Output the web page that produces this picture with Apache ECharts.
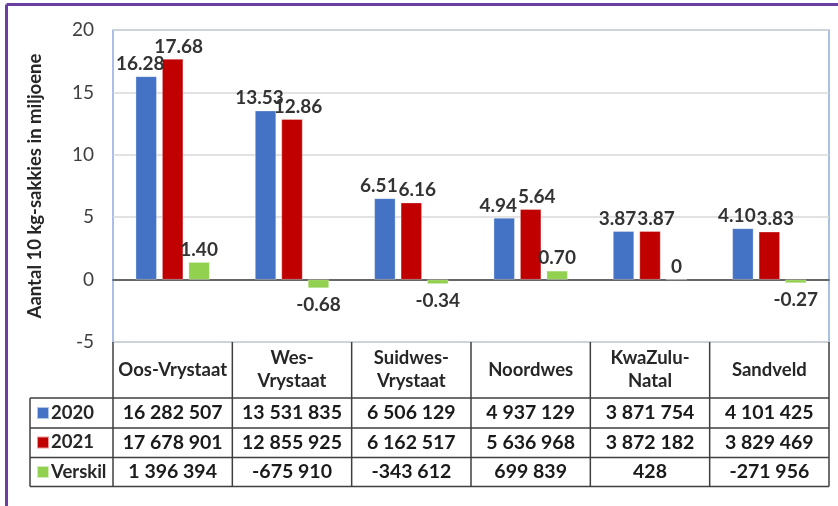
<!DOCTYPE html>
<html>
<head>
<meta charset="utf-8">
<script src="https://cdn.jsdelivr.net/npm/echarts@6/dist/echarts.min.js"></script>
<style>
html,body{margin:0;padding:0;background:#fff;}
#c{width:838px;height:506px;}
</style>
</head>
<body>
<div id="c"></div>
<script>
// ---- data ----
const categories = ['Oos-Vrystaat', 'Wes-\nVrystaat', 'Suidwes-\nVrystaat', 'Noordwes', 'KwaZulu-\nNatal', 'Sandveld'];
const seriesNames = ['2020', '2021', 'Verskil'];
const v2020 = [16282507, 13531835, 6506129, 4937129, 3871754, 4101425];
const v2021 = [17678901, 12855925, 6162517, 5636968, 3872182, 3829469];
const verskil = [1396394, -675910, -343612, 699839, 428, -271956];
const yMin = -5, yMax = 20, yStep = 5;
const yTitle = 'Aantal 10 kg-sakkies in miljoene';

// ---- styling / layout ----
const colors = ['#4472C4', '#C00000', '#92D050'];
const labelShift = [-6, 6, 0];
const FONT = 'Lato, "Open Sans", sans-serif';
const W = 838, H = 506;
const GL = 113, GR = 829, GT = 30, GB = 342;
const TL = 30;                      // left edge of row label column
const rowLines = [398, 428, 457.5, 486.5];
const lineColor = '#3F3F3F';

function fmtThousands(n) {
  const s = Math.abs(n).toString().replace(/\B(?=(\d{3})+(?!\d))/g, ' ');
  return (n < 0 ? '-' : '') + s;
}
function fmtLabel(v) {
  if (Math.abs(v) < 0.005) return '0';
  return v.toFixed(2);
}
const rows = [v2020, v2021, verskil];

const series = rows.map((arr, si) => ({
  name: seriesNames[si],
  type: 'bar',
  xAxisIndex: 0, yAxisIndex: 0,
  barWidth: 21,
  barGap: '26%',
  itemStyle: { color: colors[si], borderColor: 'rgba(255,255,255,0.6)', borderWidth: 0.5 },
  data: arr.map(v => {
    const val = v / 1e6;
    return {
      value: val,
      label: val < 0 ? { position: 'bottom', distance: 7 } : { position: 'top', distance: 3 }
    };
  }),
  label: {
    show: true, offset: [labelShift[si], 0],
    fontFamily: FONT, fontWeight: 'bold', fontSize: 19, color: '#333333',
    formatter: p => fmtLabel(p.value)
  }
}));

const grids = [{ left: GL, right: W - GR, top: GT, bottom: H - GB, show: true, borderColor: '#8FAADC', borderWidth: 1.5, backgroundColor: 'transparent' }];
const xAxes = [{
  type: 'category', gridIndex: 0, data: categories, position: 'bottom',
  axisLine: { show: true, lineStyle: { color: lineColor, width: 1.5 } },
  axisTick: { show: false },
  axisLabel: { margin: 28, verticalAlign: 'middle', fontFamily: FONT, fontWeight: 'bold', fontSize: 18.5, lineHeight: 23, color: '#262626', interval: 0 }
}];
const yAxes = [{
  type: 'value', gridIndex: 0, min: yMin, max: yMax, interval: yStep,
  name: yTitle, nameLocation: 'middle', nameGap: 68, nameRotate: 90,
  nameTextStyle: { fontFamily: FONT, fontWeight: 'bold', fontSize: 18.5, color: '#262626' },
  axisLine: { show: false }, axisTick: { show: false },
  axisLabel: { fontFamily: FONT, fontSize: 19, color: '#404040', margin: 19 },
  splitLine: { lineStyle: { color: '#D9D9D9', width: 1.5 } }
}];
rows.forEach((arr, ri) => {
  const cy = (rowLines[ri] + rowLines[ri + 1]) / 2;
  grids.push({ left: GL, right: W - GR, top: cy, height: 0.001, show: false });
  xAxes.push({
    type: 'category', gridIndex: ri + 1, data: categories, position: 'bottom',
    axisLine: { show: false }, axisTick: { show: false }, splitLine: { show: false },
    axisLabel: {
      margin: 0, verticalAlign: 'middle', interval: 0,
      fontFamily: FONT, fontWeight: 'bold', fontSize: 19.5, color: '#1A1A1A',
      formatter: (val, idx) => fmtThousands(arr[idx])
    }
  });
  yAxes.push({ type: 'value', gridIndex: ri + 1, show: false });
});

// table lines
const gfx = [];
function ln(x1, y1, x2, y2) {
  gfx.push({ type: 'line', silent: true, z: 10, shape: { x1, y1, x2, y2 }, style: { stroke: lineColor, lineWidth: 1.5 } });
}
const colW = (GR - GL) / categories.length;
for (let i = 0; i <= categories.length; i++) {
  const x = GL + i * colW;
  ln(x, GB, x, rowLines[3]);
}
ln(TL, rowLines[0], TL, rowLines[3]);
rowLines.forEach(y => ln(TL, y, GR, y));
// purple frame
gfx.push({ type: 'line', silent: true, shape: { x1: 6.5, y1: 4.5, x2: W, y2: 4.5 }, style: { stroke: '#6A3FA0', lineWidth: 3 } });
gfx.push({ type: 'line', silent: true, shape: { x1: 6.5, y1: 4.5, x2: 6.5, y2: H }, style: { stroke: '#6A3FA0', lineWidth: 3 } });

const chart = echarts.init(document.getElementById('c'), null, { renderer: 'canvas' });
chart.setOption({
  animation: false,
  backgroundColor: '#FFFFFF',
  color: colors,
  grid: grids,
  xAxis: xAxes,
  yAxis: yAxes,
  legend: {
    orient: 'vertical', left: 36, top: 403, padding: 0,
    itemWidth: 12, itemHeight: 12, itemGap: 9.5, icon: 'rect', selectedMode: false,
    data: seriesNames,
    textStyle: { fontFamily: FONT, fontWeight: 'bold', fontSize: 18.5, lineHeight: 20, color: '#262626', padding: [0, 0, 0, -3] }
  },
  graphic: gfx,
  series: series
});
</script>
</body>
</html>
